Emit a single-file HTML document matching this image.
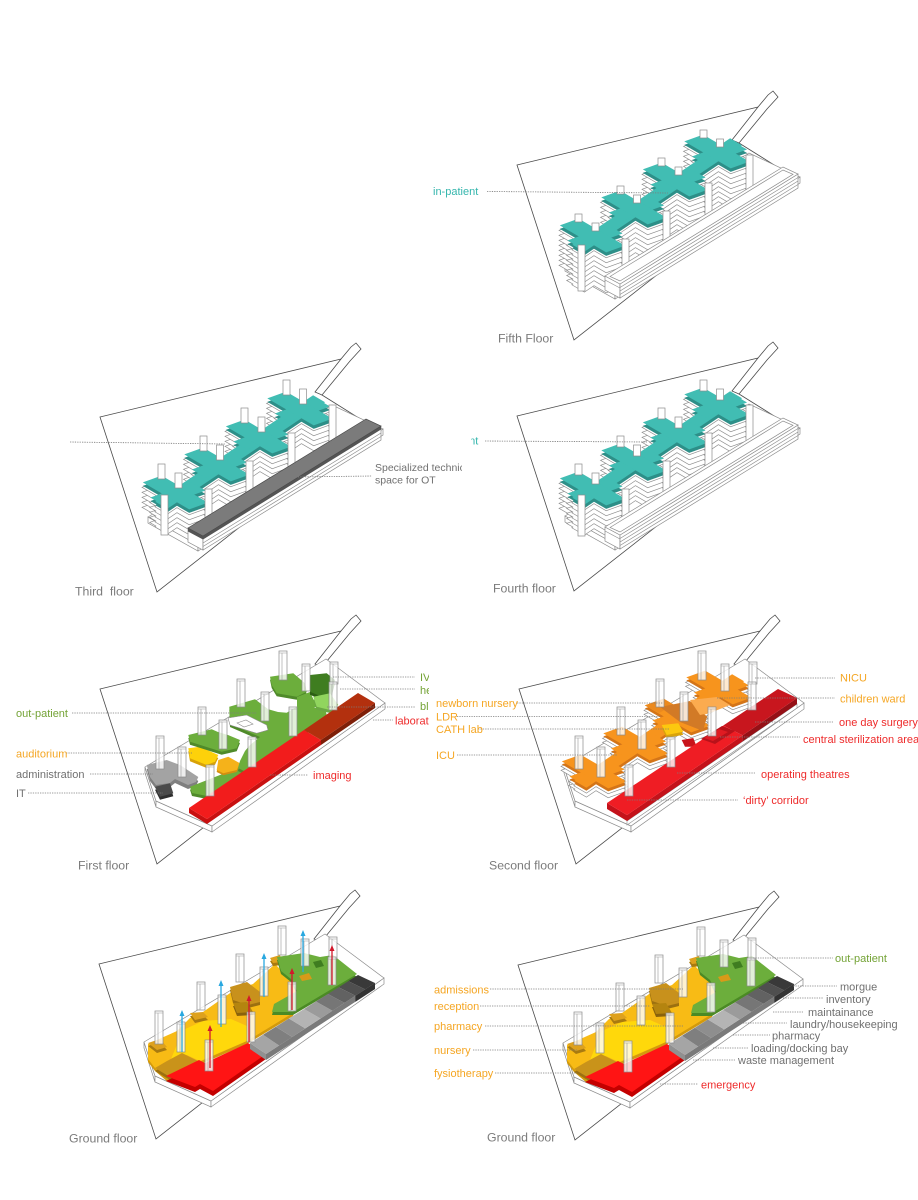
<!DOCTYPE html>
<html><head><meta charset="utf-8"><title>Hospital floor diagrams</title>
<style>
html,body{margin:0;padding:0;background:#fff;width:918px;height:1200px;overflow:hidden}
svg{display:block}
text{font-family:"Liberation Sans",Arial,sans-serif}
.lb{font-size:11px}
.sm{font-size:10.5px;fill:#707070}
.tt{font-size:12.3px;fill:#7b7b7b}
.ld{stroke:#7c7c7c;stroke-width:.8;stroke-dasharray:1.3 1.1;fill:none}
.te{fill:#35b6ad}.gr{fill:#74a336}.or{fill:#f5a623}.rd{fill:#ee2b2b}.gy{fill:#707070}
</style></head><body>
<svg width="918" height="1200" viewBox="0 0 918 1200" xmlns="http://www.w3.org/2000/svg">
<defs>
 <clipPath id="clipL3"><rect x="0" y="0" width="462" height="1200"/></clipPath>
 <clipPath id="clipR4"><rect x="471" y="0" width="447" height="1200"/></clipPath>
 <clipPath id="clipL1"><rect x="0" y="0" width="429" height="1200"/></clipPath>

 <polygon id="site" points="0,0 241,-58 251,-70 256,-74 261,-68 250,-56 222,-22 270,8 57,175"/>
 <path id="road" d="M241,-58 L215,-25 L222,-22"/>

 <g id="cr">
  <polygon points="55.4,79.7 213.1,-26.7 225.1,-19.7 67.4,86.7"/>
  <polygon points="50.44,75.48 91.8,60.52 105.56,68.52 64.2,83.48"/>
  <polygon points="42.8,60.4 61.6,53.6 108,80.6 89.2,87.4"/>
  <polygon points="91.94,47.48 133.3,32.52 147.06,40.52 105.7,55.48"/>
  <polygon points="84.3,32.4 103.1,25.6 149.5,52.6 130.7,59.4"/>
  <polygon points="133.44,19.48 174.8,4.52 188.56,12.52 147.2,27.48"/>
  <polygon points="125.8,4.4 144.6,-2.4 191,24.6 172.2,31.4"/>
  <polygon points="174.94,-8.52 216.3,-23.48 230.06,-15.48 188.7,-0.52"/>
  <polygon points="167.3,-23.6 186.1,-30.4 232.5,-3.4 213.7,3.4"/>
 </g>

 <g id="podT" fill="#fff" stroke="#8c8c8c" stroke-width=".7">
  <polygon points="48,100 98,128 98,134 48,106"/>
  <polygon points="98,128 283,12 283,18 98,134"/>
  <polygon points="48,100 232,-12 283,12 98,128"/>
 </g>

 <g id="barW" fill="#fff" stroke="#8c8c8c" stroke-width=".7">
  <polygon points="88,111 103,119 103,133 88,125"/>
  <polygon points="103,119 281,9 281,23 103,133"/>
  <polygon points="88,111 266,2 281,9 103,119"/>
  <polyline fill="none" points="103,122.5 281,12.5"/>
  <polyline fill="none" points="103,126 281,16"/>
  <polyline fill="none" points="103,129.5 281,19.5"/>
  <polyline fill="none" points="88,115 103,123"/>
  <polygon fill="none" points="93,111.5 266,5 276,9.3 103,116"/>
 </g>

 <g id="barG" stroke="#8c8c8c" stroke-width=".7">
  <polygon fill="#fff" points="88,111 103,119 103,133 88,125"/>
  <polygon fill="#fff" points="103,119 281,9 281,23 103,133"/>
  <polygon fill="#545454" stroke="none" points="103,119 281,9 281,12.5 103,122.5"/>
  <polygon fill="#545454" stroke="none" points="88,111 103,119 103,122.5 88,114.5"/>
  <polygon fill="#7b7b7b" stroke="#4a4a4a" points="88,111 266,2 281,9 103,119"/>
  <polyline fill="none" points="103,126 281,16"/>
  <polyline fill="none" points="103,129.5 281,19.5"/>
 </g>

 <g id="podL" fill="#fff" stroke="#8c8c8c" stroke-width=".7">
  <polygon points="45,78 56,112 56,118 45,84"/>
  <polygon points="56,112 112,137 112,143 56,118"/>
  <polygon points="112,137 285,14 285,20 112,143"/>
  <polygon points="45,78 226,-30 285,14 112,137 56,112"/>
 </g>

 <g id="pl">
  <g fill="#fff" fill-opacity=".8" stroke="#8a8a8a" stroke-width=".7">
   <rect x="179" y="-38" width="8" height="29"/>
   <rect x="230" y="-27" width="8" height="22"/>
   <rect x="202" y="-25" width="8" height="27"/>
   <rect x="137" y="-10" width="8" height="28"/>
   <rect x="229" y="-7" width="8" height="28"/>
   <rect x="161" y="3" width="8" height="29"/>
   <rect x="98" y="18" width="8" height="28"/>
   <rect x="189" y="18" width="8" height="29"/>
   <rect x="119" y="31" width="8" height="29"/>
   <rect x="148" y="48" width="8" height="30"/>
   <rect x="56" y="47" width="8" height="33"/>
   <rect x="78" y="58" width="8" height="30"/>
   <rect x="106" y="76" width="8" height="31"/>
  </g>
  <path fill="none" stroke="#9a9a9a" stroke-width=".6" d="M182,-36V-9M179,-36h8M233,-25V-5M230,-25h8M205,-23V2M202,-23h8M140,-8V18M137,-8h8M232,-5V21M229,-5h8M164,5V32M161,5h8M101,20V46M98,20h8M192,20V47M189,20h8M122,33V60M119,33h8M151,50V78M148,50h8M59,49V80M56,49h8M81,60V88M78,60h8M109,78V107M106,78h8"/>
 </g>

 <!-- first floor pieces -->
 <polygon id="f1a" points="46.7,76 66.7,71 80,76 98.3,88 96,93 88,96 75,90 70,94 56,96 50,88"/>
 <polygon id="f1it" points="55,97.7 70,94.3 73.3,104.3 60,107.7"/>
 <polygon id="f1st" points="90,97.7 120,86 140,78 146,84 112,108 92,104"/>
 <polygon id="f1au" points="88.3,59.3 100,57.7 118.3,66 115,72.7 106.7,76 90,69.3"/>
 <polygon id="f1co" points="118.3,71 128.3,67.7 140,74.3 136.7,81 123.3,84.3 116.7,81"/>
 <polygon id="f1g1" points="88.3,46 111.7,40.3 118,43 128,46 140,51 136.7,59.3 121.7,62.7 90,52.7"/>
 <polygon id="f1g2" points="129.3,17.7 155,10.3 168.3,20.3 178,23 186.7,23.7 196.7,17.7 213.3,17.7 226,22.7 227,28 200,46 146,83 138,79 140,72 145,62 150,56 160,48 130,35"/>
 <polygon id="f1g3" points="170,-12.3 193.3,-15.7 205,-5.7 206.7,2.7 196.7,7.7 176.7,4.3 171.7,-4"/>
 <polygon id="f1g4" points="197,8 210,3 217,18 197,18"/>
 <polygon id="f1gd" points="210,-14 226.7,-15.7 235,-9 231.7,4.3 221.7,7.7 210,2.7"/>
 <polygon id="f1gl" points="213.3,7.7 230,4.3 238.3,16 230,21 216.7,17.7"/>

 <!-- ground pieces -->
 <polygon id="gY" points="49,80 78,67 91,54 104,48 134,27 154,20 176,0 182,6 194,16 200,30 194,49 148,77 100,98 69,115 56,104 49,95"/>
 <polygon id="gBY" points="72,95 84,66 104,57 132,55 148,62 150,76 101,97 88,91"/>
 <polygon id="gG" points="178,-7 205,-11 221,-7 234,-9 258,10 194,48 173,48 175,40 198,27 192,15 182,7"/>
 <polygon id="gR" points="67,112 100,96 106,99 149,79 167,90 114,127 101,120 96,123"/>
 <polygon id="gk1" points="49,79 61,75 68,83 58,86"/>
 <polygon id="gk2" points="56,104 68,97 83,89 99,97 71,113"/>
 <polygon id="gk3" points="91,49 104,48 109,53 96,56"/>
 <polygon id="gk4" points="131,23 148,18 161,28 161,38 149,41 134,36"/>
 <polygon id="gk5" points="134,39 148,38 154,48 138,49"/>
 <polygon id="gk6" points="171,-6 181,-9 183,-2 174,-1"/>

 <g id="gf">
  <use href="#podL"/>
  <use href="#gY" y="3" fill="#d39a0c"/>
  <use href="#gY" fill="#f8bb15"/>
  <use href="#gBY" fill="#ffd80b"/>
  <use href="#gk1" y="3" fill="#a87a10"/><use href="#gk1" fill="#dea11d"/>
  <use href="#gk2" y="3" fill="#9c7010"/><use href="#gk2" fill="#c9931a"/>
  <use href="#gk3" y="3" fill="#a87a10"/><use href="#gk3" fill="#dea11d"/>
  <use href="#gk4" y="3" fill="#9c7010"/><use href="#gk4" fill="#c8911c"/>
  <use href="#gk5" y="3" fill="#8a620c"/><use href="#gk5" fill="#b4840f"/>
  <use href="#gk6" y="3" fill="#a87a10"/><use href="#gk6" fill="#dea11d"/>
  <use href="#gG" y="3" fill="#4b8a25"/>
  <use href="#gG" fill="#6cae3c"/>
  <polygon points="214,-2 222,-4 225,2 217,4" fill="#3f7d20"/>
  <polygon points="200,12 210,9 213,15 203,17" fill="#d89a18"/>
  <use href="#gR" y="5" fill="#c40000"/>
  <use href="#gR" fill="#ff1414"/>
  <polygon points="151,79 167,90 167,96 151,85" fill="#909090"/>
  <polygon points="167,90 276,19 276,25 167,96" fill="#7a7a7a"/>
  <polygon points="256.4,31.8 276,19 276,25 256.4,37.8" fill="#333"/>
  <polygon points="151,79 164,70.8 180.1,81.5 167,90" fill="#a5a5a5"/>
  <polygon points="164,70.8 176.9,62.7 193.2,73 180.1,81.5" fill="#7f7f7f"/>
  <polygon points="176.9,62.7 189.9,54.5 206.2,64.4 193.2,73" fill="#8e8e8e"/>
  <polygon points="189.9,54.5 205,45 221.5,54.5 206.2,64.4" fill="#b4b4b4"/>
  <polygon points="205,45 216.9,37.5 233.5,46.7 221.5,54.5" fill="#9b9b9b"/>
  <polygon points="216.9,37.5 228.8,30 245.5,38.9 233.5,46.7" fill="#767676"/>
  <polygon points="228.8,30 239.6,23.2 256.4,31.8 245.5,38.9" fill="#626262"/>
  <polygon points="239.6,23.2 249.3,17.1 266.2,25.4 256.4,31.8" fill="#4f4f4f"/>
  <polygon points="249.3,17.1 259,11 276,19 266.2,25.4" fill="#393939"/>
  <use href="#pl"/>
 </g>
</defs>

<rect width="918" height="1200" fill="#fff"/>

<!-- ============ FIFTH FLOOR ============ -->
<g transform="translate(517,165)">
 <use href="#site" fill="#fff" stroke="#4a4a4a" stroke-width=".8"/>
 <use href="#road" fill="none" stroke="#4a4a4a" stroke-width=".8"/>
 <use href="#podT"/>
 <use href="#cr" y="40" fill="#fff" stroke="#8c8c8c" stroke-width="1.3"/><use href="#cr" y="40" fill="#fff"/>
 <use href="#cr" y="35" fill="#fff" stroke="#8c8c8c" stroke-width="1.3"/><use href="#cr" y="35" fill="#fff"/>
 <use href="#cr" y="30" fill="#fff" stroke="#8c8c8c" stroke-width="1.3"/><use href="#cr" y="30" fill="#fff"/>
 <use href="#cr" y="25" fill="#fff" stroke="#8c8c8c" stroke-width="1.3"/><use href="#cr" y="25" fill="#fff"/>
 <use href="#cr" y="20" fill="#fff" stroke="#8c8c8c" stroke-width="1.3"/><use href="#cr" y="20" fill="#fff"/>
 <use href="#cr" y="15" fill="#fff" stroke="#8c8c8c" stroke-width="1.3"/><use href="#cr" y="15" fill="#fff"/>
 <use href="#cr" y="10" fill="#fff" stroke="#8c8c8c" stroke-width="1.3"/><use href="#cr" y="10" fill="#fff"/>
 <use href="#cr" y="5" fill="#fff" stroke="#8c8c8c" stroke-width="1.3"/><use href="#cr" y="5" fill="#fff"/>
 <use href="#cr" y="3.5" fill="#2d8f88"/>
 <use href="#cr" fill="#41bdb3"/>
 <g fill="#fff" stroke="#8c8c8c" stroke-width=".7">
  <rect x="58" y="49" width="7" height="8"/><rect x="100" y="21" width="7" height="8"/>
  <rect x="141" y="-7" width="7" height="8"/><rect x="183" y="-35" width="7" height="8"/>
  <rect x="75" y="58" width="7" height="8"/><rect x="116.5" y="30" width="7" height="8"/>
  <rect x="158" y="2" width="7" height="8"/><rect x="199.5" y="-26" width="7" height="8"/>
  <rect x="61" y="80" width="7" height="46"/><rect x="105" y="74" width="7" height="46"/>
  <rect x="146" y="46" width="7" height="46"/><rect x="188" y="18" width="7" height="46"/>
  <rect x="229" y="-10" width="7" height="46"/>
 </g>
 <use href="#barW"/>
</g>

<!-- ============ FOURTH FLOOR ============ -->
<g transform="translate(517,416)">
 <use href="#site" fill="#fff" stroke="#4a4a4a" stroke-width=".8"/>
 <use href="#road" fill="none" stroke="#4a4a4a" stroke-width=".8"/>
 <use href="#podT"/>
 <g transform="translate(0,2)">
 <use href="#cr" y="30" fill="#fff" stroke="#8c8c8c" stroke-width="1.3"/><use href="#cr" y="30" fill="#fff"/>
 <use href="#cr" y="25" fill="#fff" stroke="#8c8c8c" stroke-width="1.3"/><use href="#cr" y="25" fill="#fff"/>
 <use href="#cr" y="20" fill="#fff" stroke="#8c8c8c" stroke-width="1.3"/><use href="#cr" y="20" fill="#fff"/>
 <use href="#cr" y="15" fill="#fff" stroke="#8c8c8c" stroke-width="1.3"/><use href="#cr" y="15" fill="#fff"/>
 <use href="#cr" y="10" fill="#fff" stroke="#8c8c8c" stroke-width="1.3"/><use href="#cr" y="10" fill="#fff"/>
 <use href="#cr" y="5" fill="#fff" stroke="#8c8c8c" stroke-width="1.3"/><use href="#cr" y="5" fill="#fff"/>
 <use href="#cr" y="3.5" fill="#2d8f88"/>
 <use href="#cr" fill="#41bdb3"/>
 <g fill="#fff" stroke="#8c8c8c" stroke-width=".7">
  <rect x="58" y="46" width="7" height="11"/><rect x="100" y="18" width="7" height="11"/>
  <rect x="141" y="-10" width="7" height="11"/><rect x="183" y="-38" width="7" height="11"/>
  <rect x="75" y="55" width="7" height="11"/><rect x="116.5" y="27" width="7" height="11"/>
  <rect x="158" y="-1" width="7" height="11"/><rect x="199.5" y="-29" width="7" height="11"/>
  <rect x="61" y="77" width="7" height="41"/><rect x="105" y="71" width="7" height="41"/>
  <rect x="146" y="43" width="7" height="41"/><rect x="188" y="15" width="7" height="41"/>
  <rect x="229" y="-13" width="7" height="41"/>
 </g>
 </g>
 <use href="#barW"/>
</g>

<!-- ============ THIRD FLOOR ============ -->
<g transform="translate(100,417)">
 <use href="#site" fill="#fff" stroke="#4a4a4a" stroke-width=".8"/>
 <use href="#road" fill="none" stroke="#4a4a4a" stroke-width=".8"/>
 <use href="#podT"/>
 <g transform="translate(0,5)">
 <use href="#cr" y="25" fill="#fff" stroke="#8c8c8c" stroke-width="1.3"/><use href="#cr" y="25" fill="#fff"/>
 <use href="#cr" y="20" fill="#fff" stroke="#8c8c8c" stroke-width="1.3"/><use href="#cr" y="20" fill="#fff"/>
 <use href="#cr" y="15" fill="#fff" stroke="#8c8c8c" stroke-width="1.3"/><use href="#cr" y="15" fill="#fff"/>
 <use href="#cr" y="10" fill="#fff" stroke="#8c8c8c" stroke-width="1.3"/><use href="#cr" y="10" fill="#fff"/>
 <use href="#cr" y="5" fill="#fff" stroke="#8c8c8c" stroke-width="1.3"/><use href="#cr" y="5" fill="#fff"/>
 <use href="#cr" y="3.5" fill="#2d8f88"/>
 <use href="#cr" fill="#41bdb3"/>
 <g fill="#fff" stroke="#8c8c8c" stroke-width=".7">
  <rect x="58" y="42" width="7" height="15"/><rect x="100" y="14" width="7" height="15"/>
  <rect x="141" y="-14" width="7" height="15"/><rect x="183" y="-42" width="7" height="15"/>
  <rect x="75" y="51" width="7" height="15"/><rect x="116.5" y="23" width="7" height="15"/>
  <rect x="158" y="-5" width="7" height="15"/><rect x="199.5" y="-33" width="7" height="15"/>
  <rect x="61" y="73" width="7" height="40"/><rect x="105" y="67" width="7" height="40"/>
  <rect x="146" y="39" width="7" height="40"/><rect x="188" y="11" width="7" height="40"/>
  <rect x="229" y="-17" width="7" height="40"/>
 </g>
 </g>
 <use href="#barG"/>
</g>

<!-- ============ FIRST FLOOR ============ -->
<g transform="translate(100,689)">
 <use href="#site" fill="#fff" stroke="#4a4a4a" stroke-width=".8"/>
 <use href="#road" fill="none" stroke="#4a4a4a" stroke-width=".8"/>
 <use href="#podL"/>
 <use href="#f1a" y="4" fill="#7f7f7f"/><use href="#f1a" fill="#a3a3a3"/>
 <use href="#f1it" y="3" fill="#2e2e2e"/><use href="#f1it" fill="#4a4a4a"/>
 <use href="#f1st" y="3" fill="#4f8a2a"/><use href="#f1st" fill="#6cae3c"/>
 <use href="#f1au" y="3" fill="#d8a208"/><use href="#f1au" fill="#fdd10a"/>
 <use href="#f1co" y="2" fill="#d48f10"/><use href="#f1co" fill="#f5b21a"/>
 <use href="#f1g1" y="3" fill="#4f8a2a"/><use href="#f1g1" fill="#6cae3c"/>
 <use href="#f1g2" y="3" fill="#4f8a2a"/><use href="#f1g2" fill="#6cae3c"/>
 <polygon points="128,29 146.7,26 166.7,36 168,41 156.7,44.3 130,36" fill="#fff" stroke="#8c8c8c" stroke-width=".6"/>
 <polygon points="137,34 146,31 153,35 144,38" fill="#fff" stroke="#8c8c8c" stroke-width=".6"/>
 <use href="#f1g3" y="3" fill="#4f8a2a"/><use href="#f1g3" fill="#6cae3c"/>
 <use href="#f1g4" fill="#6cae3c"/>
 <use href="#f1gd" y="3" fill="#2c5f14"/><use href="#f1gd" fill="#3f7d20"/>
 <use href="#f1gl" y="3" fill="#6aa843"/><use href="#f1gl" fill="#91d55e"/>
 <polygon points="89,119 107,130 107,135 89,124" fill="#c81010"/>
 <polygon points="107,130 221,51 221,56 107,135" fill="#c81010"/>
 <polygon points="221,51 275,14 275,19 221,56" fill="#7e1f08"/>
 <polygon points="89,119 204,41 221,51 107,130" fill="#f21c1c"/>
 <polygon points="204,41 258,4 275,14 221,51" fill="#b3300e"/>
 <use href="#pl"/>
</g>

<!-- ============ SECOND FLOOR ============ -->
<g transform="translate(519,689)">
 <use href="#site" fill="#fff" stroke="#4a4a4a" stroke-width=".8"/>
 <use href="#road" fill="none" stroke="#4a4a4a" stroke-width=".8"/>
 <use href="#podL"/>
 <use href="#cr" y="21" fill="#fff" stroke="#8c8c8c" stroke-width="1.3"/><use href="#cr" y="21" fill="#fff"/>
 <use href="#cr" y="17" fill="#fff" stroke="#8c8c8c" stroke-width="1.3"/><use href="#cr" y="17" fill="#fff"/>
 <use href="#cr" y="15" fill="#d47518"/>
 <use href="#cr" y="12" fill="#f7941d"/>
 <polygon points="125.8,16.4 144.6,9.6 155,16 140,24" fill="#ec8a1e"/>
 <polygon points="141,18 171,12 188,28 184,42 161,33" fill="#d27a26"/>
 <polygon points="171,11 198,8 211,16 191,24 181,26" fill="#fbab4f"/>
 <polygon points="142.7,39 159.3,37.3 164.3,45.7 147.7,49" fill="#d9a30a"/>
 <polygon points="142.7,36 159.3,34.3 164.3,42.7 147.7,46" fill="#fcc80f"/>
 <polygon points="162.7,51 174.3,49 177.7,57.7 166,57.7" fill="#c8141b"/>
 <polygon points="108,132 278,15 278,19 108,136" fill="#fff" stroke="#8c8c8c" stroke-width=".6"/>
 <polygon points="88,114 108,126 108,132 88,120" fill="#c4121a"/>
 <polygon points="108,126 223.6,46.4 223.6,52.4 108,132" fill="#c4121a"/>
 <polygon points="223.6,46.4 278,9 278,15 223.6,52.4" fill="#951016"/>
 <polygon points="88,114 204.3,36.5 223.6,46.4 108,126" fill="#ef1d24"/>
 <polygon points="204.3,36.5 259,0 278,9 223.6,46.4" fill="#c8161e"/>
 <polygon points="182,50 203,37 216,42 196,55" fill="#b8121a"/>
 <polygon points="185,49 200,40 209,43 194,52" fill="#e01b22"/>
 <use href="#pl"/>
</g>

<!-- ============ GROUND FLOORS ============ -->
<g transform="translate(99,964)">
 <use href="#site" fill="#fff" stroke="#4a4a4a" stroke-width=".8"/>
 <use href="#road" fill="none" stroke="#4a4a4a" stroke-width=".8"/>
 <use href="#gf"/>
 <g stroke-width="1.3" fill="none">
  <path d="M83,88V51M122,63V21M165,33V-6M204,8V-29" stroke="#29a8e0"/>
  <path d="M111,104V66M150,78V36M193,46V9M233,21V-14" stroke="#d2192b"/>
 </g>
 <g fill="#29a8e0">
  <polygon points="80.5,52 83,46 85.5,52"/><polygon points="119.5,22 122,16 124.5,22"/>
  <polygon points="162.5,-5 165,-11 167.5,-5"/><polygon points="201.5,-28 204,-34 206.5,-28"/>
 </g>
 <g fill="#d2192b">
  <polygon points="108.5,67 111,61 113.5,67"/><polygon points="147.5,37 150,31 152.5,37"/>
  <polygon points="190.5,10 193,4 195.5,10"/><polygon points="230.5,-13 233,-19 235.5,-13"/>
 </g>
</g>
<g transform="translate(518,965)">
 <use href="#site" fill="#fff" stroke="#4a4a4a" stroke-width=".8"/>
 <use href="#road" fill="none" stroke="#4a4a4a" stroke-width=".8"/>
 <use href="#gf"/>
</g>

<!-- ============ LEADER LINES ============ -->
<g class="ld">
 <path d="M487,191.5L668,193"/>
 <path d="M70,442L226,444"/>
 <path d="M293,477L372,476"/>
 <path d="M485,441L647,442"/>
 <path d="M72,713H257M66,753H192M90,774H153M28,793H163M270,775H308"/>
 <path d="M333,677H415M340,689H415M327,707H415M373,720H393"/>
 <path d="M517,703H663M457,716.5H660M478,729H670M457,755H617"/>
 <path d="M755,678H835M717,698H835M755,722H833M720,737H800M677,773H755M627,800H738"/>
 <path d="M753,958H833M490,989H683M480,1006H650M485,1026H683M473,1050H577M495,1073H577M660,1084H698"/>
 <path d="M793,986H837M783,998H823M773,1012H803M743,1023H787M733,1035H770M713,1048H748M693,1060H735"/>
</g>

<!-- ============ LABELS ============ -->
<text class="lb te" x="433" y="195">in-patient</text>
<g clip-path="url(#clipR4)"><text class="lb te" x="433" y="444.5">in-patient</text></g>
<g clip-path="url(#clipL3)">
 <text class="sm" x="375" y="471">Specialized technical</text>
 <text class="sm" x="375" y="483.5">space for OT</text>
</g>

<text class="lb gr" x="16" y="717">out-patient</text>
<text class="lb or" x="16" y="757.5">auditorium</text>
<text class="lb gy" x="16" y="778">administration</text>
<text class="lb gy" x="16" y="797">IT</text>
<text class="lb rd" x="313" y="779">imaging</text>
<g clip-path="url(#clipL1)">
 <text class="lb gr" x="420" y="681">IVF clinic</text>
 <text class="lb gr" x="420" y="694">hemodialysis</text>
 <text class="lb gr" x="420" y="710">blood bank</text>
 <text class="lb rd" x="395" y="724.5">laboratory</text>
</g>

<text class="lb or" x="436" y="707">newborn nursery</text>
<text class="lb or" x="436" y="720.5">LDR</text>
<text class="lb or" x="436" y="733">CATH lab</text>
<text class="lb or" x="436" y="759">ICU</text>
<text class="lb or" x="840" y="681.5">NICU</text>
<text class="lb or" x="840" y="702.5">children ward</text>
<text class="lb rd" x="839" y="726">one day surgery</text>
<text class="lb rd" x="803" y="743">central sterilization area</text>
<text class="lb rd" x="761" y="778">operating theatres</text>
<text class="lb rd" x="743" y="804">‘dirty’ corridor</text>

<text class="lb gr" x="835" y="962">out-patient</text>
<text class="lb or" x="434" y="993.5">admissions</text>
<text class="lb or" x="434" y="1010">reception</text>
<text class="lb or" x="434" y="1030">pharmacy</text>
<text class="lb or" x="434" y="1054">nursery</text>
<text class="lb or" x="434" y="1077">fysiotherapy</text>
<text class="lb rd" x="701" y="1088.5">emergency</text>
<text class="lb gy" x="840" y="990.5">morgue</text>
<text class="lb gy" x="826" y="1003">inventory</text>
<text class="lb gy" x="808" y="1016">maintainance</text>
<text class="lb gy" x="790" y="1028">laundry/housekeeping</text>
<text class="lb gy" x="772" y="1039.5">pharmacy</text>
<text class="lb gy" x="751" y="1052">loading/docking bay</text>
<text class="lb gy" x="738" y="1064">waste management</text>

<text class="tt" x="498" y="342.5">Fifth Floor</text>
<text class="tt" x="75" y="595.5" xml:space="preserve">Third  floor</text>
<text class="tt" x="493" y="592.5">Fourth floor</text>
<text class="tt" x="78" y="869.5">First floor</text>
<text class="tt" x="489" y="869.5">Second floor</text>
<text class="tt" x="69" y="1142.5">Ground floor</text>
<text class="tt" x="487" y="1141.5">Ground floor</text>
</svg>
</body></html>
